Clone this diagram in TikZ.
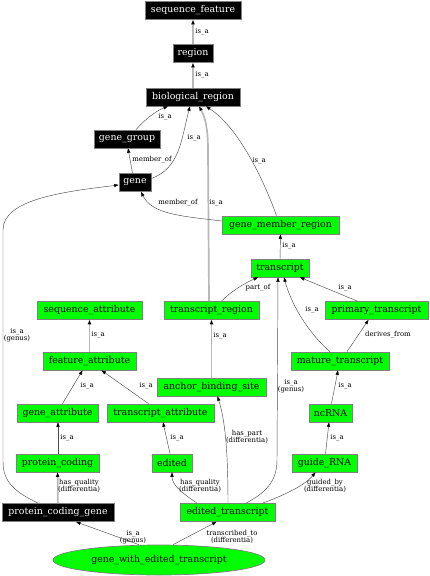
\documentclass[tikz,border=0pt]{standalone}
\usepackage{fontspec}
\usetikzlibrary{arrows.meta,shapes.geometric}
\newfontfamily\dvserif{DejaVu Serif}
\newcommand\NodeFnt{\dvserif\fontsize{9.4}{11}\selectfont}
\newcommand\LblFnt{\dvserif\fontsize{6.9}{7}\selectfont}
\definecolor{gvgreen}{HTML}{00FF00}
\definecolor{gvborder}{HTML}{808080}
\tikzset{
  basebox/.style={draw=gvborder, line width=0.7pt, minimum height=18pt, inner xsep=1pt, inner ysep=0pt, font=\NodeFnt},
  bnode/.style={basebox, fill=black, text=white},
  gnode/.style={basebox, fill=gvgreen, text=black},
  edg/.style={draw=black!70, line width=0.45pt, -{Triangle[length=4.5pt,width=3.2pt,color=black]}},
  thk/.style={draw=black!28, line width=1.7pt, -{Triangle[length=4.5pt,width=3.2pt,color=black]}},
  lbl/.style={font=\LblFnt, inner sep=0pt, align=center, text=black}
}
\begin{document}
\begin{tikzpicture}[x=1pt,y=-1pt]
\useasboundingbox (0,0) rectangle (429,576);
% nodes
\node[bnode, minimum width=96] (sf) at (193,10.5) {sequence\_feature};
\node[bnode, minimum width=40] (region) at (193,53.5) {region};
\node[bnode, minimum width=94] (br) at (193,97) {biological\_region};
\node[bnode, minimum width=66] (gg) at (127,139) {gene\_group};
\node[bnode, minimum width=32] (gene) at (135,182.5) {gene};
\node[gnode, minimum width=117] (gmr) at (280.5,225) {gene\_member\_region};
\node[gnode, minimum width=58] (tr) at (280,268) {transcript};
\node[gnode, minimum width=105] (sa) at (89.5,310.5) {sequence\_attribute};
\node[gnode, minimum width=95] (trr) at (211.5,310.5) {transcript\_region};
\node[gnode, minimum width=103] (pt) at (376.5,310.5) {primary\_transcript};
\node[gnode, minimum width=93] (fa) at (89.5,361) {feature\_attribute};
\node[gnode, minimum width=98] (mt) at (340,361) {mature\_transcript};
\node[gnode, minimum width=109] (abs) at (211.5,387) {anchor\_binding\_site};
\node[gnode, minimum width=81] (ga) at (57.5,413) {gene\_attribute};
\node[gnode, minimum width=107] (ta) at (160.5,413) {transcript\_attribute};
\node[gnode, minimum width=43] (nc) at (330.5,413) {ncRNA};
\node[gnode, minimum width=83] (pc) at (57.5,463) {protein\_coding};
\node[gnode, minimum width=40] (ed) at (172,463) {edited};
\node[gnode, minimum width=65] (grna) at (324.5,463) {guide\_RNA};
\node[bnode, minimum width=112] (pcg) at (58,512.5) {protein\_coding\_gene};
\node[gnode, minimum width=95] (et) at (227.5,512.5) {edited\_transcript};
\node[gnode, ellipse, inner sep=0pt, minimum width=212, minimum height=30] (gwet) at (159,560) {gene\_with\_edited\_transcript};
% edges
\draw[thk] (region) -- (sf) node[lbl, at={(202,32)}] {is\_a};
\draw[thk] (br) -- (region) node[lbl, at={(202,75)}] {is\_a};
\draw[edg] ([xshift=9pt]gg.north) .. controls (146,118) and (158,110) .. ([xshift=-25pt]br.south) node[lbl, at={(165,117)}] {is\_a};
\draw[edg] ([yshift=4pt]gene.east) .. controls (180,168) and (181,140) .. ([xshift=-3pt]br.south) node[lbl, at={(194,138)}] {is\_a};
\draw[edg] ([xshift=-2.5pt]gene.north) -- ([xshift=1pt]gg.south) node[lbl, at={(152,160)}] {member\_of};
\draw[thk] ([xshift=-2.5pt]trr.north) -- (208,150) .. controls (208,125) and (204,115) .. ([xshift=6pt]br.south) node[lbl, at={(216,203)}] {is\_a};
\draw[edg] ([xshift=-4pt]gmr.north) .. controls (260,170) and (235,125) .. ([xshift=13pt]br.south) node[lbl, at={(259,161)}] {is\_a};
\draw[edg] ([yshift=4pt]gmr.west) .. controls (180,216) and (152,214) .. ([xshift=6pt]gene.south) node[lbl, at={(178,203)}] {member\_of};
\draw[edg] (tr) -- (gmr) node[lbl, at={(289,246)}] {is\_a};
\draw[edg] ([xshift=10pt]trr.north) .. controls (230,292) and (245,283) .. ([xshift=-22pt]tr.south) node[lbl, at={(258,288)}] {part\_of};
\draw[edg] ([xshift=-10pt]mt.north) .. controls (305,330) and (290,300) .. ([xshift=4pt]tr.south) node[lbl, at={(312,310)}] {is\_a};
\draw[edg] ([xshift=-19pt]pt.north) -- ([xshift=20pt]tr.south) node[lbl, at={(345,288)}] {is\_a};
\draw[edg] ([xshift=7pt]mt.north) -- ([xshift=-8pt]pt.south) node[lbl, at={(388,335)}] {derives\_from};
\draw[thk] (fa) -- (sa) node[lbl, at={(98,335)}] {is\_a};
\draw[edg] ([xshift=5pt]ga.north) -- ([xshift=-7pt]fa.south) node[lbl, at={(87,386)}] {is\_a};
\draw[edg] ([xshift=-12pt]ta.north) -- ([xshift=12pt]fa.south) node[lbl, at={(146,386)}] {is\_a};
\draw[thk] (abs) -- (trr) node[lbl, at={(220,336)}] {is\_a};
\draw[edg] ([xshift=1pt]nc.north) -- ([xshift=-2pt]mt.south) node[lbl, at={(345,386)}] {is\_a};
\draw[edg] ([xshift=0.5pt]pc.north) -- ([xshift=0.5pt]ga.south) node[lbl, at={(67,438)}] {is\_a};
\draw[edg] ([xshift=-2pt]ed.north) -- ([xshift=2.5pt]ta.south) node[lbl, at={(177,438)}] {is\_a};
\draw[edg] ([xshift=1pt]grna.north) -- ([xshift=-1.5pt]nc.south) node[lbl, at={(337,438)}] {is\_a};
\draw[thk] (pcg) -- (pc) node[lbl, at={(79,486)}] {has\_quality\\(differentia)};
\draw[edg] ([xshift=-20pt]pcg.north) .. controls (15,492) and (3,482) .. (3,462) -- (3,230) .. controls (3,200) and (60,192) .. ([yshift=-2.5pt]gene.west) node[lbl, at={(17,335)}] {is\_a\\(genus)};
\draw[edg] ([xshift=-30.5pt]et.north) .. controls (182,493) and (172,485) .. (ed.south) node[lbl, at={(200,486)}] {has\_quality\\(differentia)};
\draw[edg] ([xshift=0.5pt]et.north) .. controls (228,450) and (225,420) .. ([xshift=6pt]abs.south) node[lbl, at={(247,437)}] {has\_part\\(differentia)};
\draw[edg] ([xshift=18.5pt]et.north) .. controls (265,493) and (277,482) .. (277,460) -- ([xshift=-2pt]tr.south) node[lbl, at={(291,386)}] {is\_a\\(genus)};
\draw[edg] ([xshift=35pt]et.north) .. controls (285,495) and (305,485) .. ([xshift=-9pt]grna.south) node[lbl, at={(325,486)}] {guided\_by\\(differentia)};
\draw[edg] ([xshift=-20pt]gwet.north) -- ([xshift=18pt]pcg.south) node[lbl, at={(133,537)}] {is\_a\\(genus)};
\draw[edg] ([xshift=14pt]gwet.north) -- ([xshift=-11pt]et.south) node[lbl, at={(232,537)}] {transcribed\_to\\(differentia)};
\end{tikzpicture}
\end{document}
